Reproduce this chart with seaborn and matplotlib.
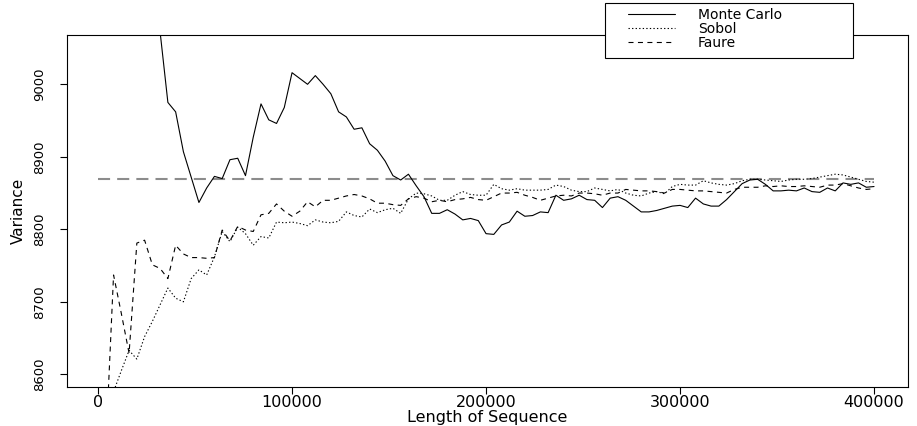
import matplotlib
matplotlib.use("Agg")
import matplotlib.pyplot as plt
import matplotlib.patches as mpatches
import seaborn as sns
import pandas as pd

# ---------------- data ----------------
seq_length = list(range(4000, 400001, 4000))

monte_carlo = [9420, 9350, 9290, 9230, 9180, 9130, 9100, 9072, 8975, 8962,
               8907, 8872, 8837, 8857, 8873, 8870, 8896, 8898, 8874, 8927,
               8973, 8951, 8946, 8968, 9016, 9008, 9000, 9012, 9000, 8987,
               8962, 8955, 8938, 8940, 8918, 8909, 8894, 8874, 8868, 8876,
               8860, 8845, 8822, 8822, 8827, 8821, 8813, 8815, 8812, 8794,
               8793, 8806, 8810, 8825, 8818, 8819, 8824, 8823, 8847, 8840,
               8842, 8847, 8841, 8840, 8830, 8843, 8845, 8840, 8832, 8824,
               8824, 8826, 8829, 8832, 8833, 8830, 8843, 8835, 8832, 8832,
               8841, 8852, 8863, 8868, 8869, 8862, 8853, 8853, 8854, 8853,
               8857, 8852, 8851, 8857, 8853, 8864, 8862, 8864, 8858, 8859]

sobol = [8540, 8576, 8605, 8633, 8621, 8652, 8673, 8696, 8719, 8705,
         8700, 8732, 8744, 8737, 8762, 8797, 8783, 8803, 8794, 8778,
         8790, 8788, 8810, 8809, 8810, 8808, 8805, 8813, 8810, 8809,
         8811, 8824, 8819, 8817, 8828, 8823, 8827, 8829, 8822, 8842,
         8850, 8849, 8846, 8840, 8840, 8847, 8852, 8848, 8847, 8847,
         8862, 8856, 8854, 8856, 8854, 8854, 8854, 8855, 8861, 8859,
         8854, 8852, 8852, 8857, 8855, 8853, 8855, 8850, 8847, 8846,
         8850, 8852, 8849, 8859, 8862, 8861, 8861, 8867, 8864, 8862,
         8861, 8863, 8867, 8869, 8869, 8868, 8867, 8866, 8868, 8869,
         8869, 8870, 8872, 8874, 8876, 8875, 8872, 8869, 8866, 8865]

faure = [8500, 8737, 8684, 8629, 8781, 8785, 8751, 8746, 8732, 8778,
         8766, 8761, 8761, 8760, 8761, 8799, 8784, 8804, 8799, 8797,
         8820, 8822, 8835, 8825, 8818, 8825, 8838, 8831, 8840, 8840,
         8843, 8846, 8848, 8846, 8842, 8836, 8836, 8834, 8833, 8842,
         8845, 8843, 8838, 8840, 8838, 8841, 8842, 8844, 8841, 8840,
         8845, 8850, 8850, 8851, 8847, 8844, 8840, 8843, 8846, 8847,
         8846, 8850, 8850, 8849, 8847, 8850, 8850, 8855, 8854, 8853,
         8853, 8852, 8850, 8855, 8855, 8854, 8853, 8853, 8852, 8851,
         8850, 8855, 8858, 8858, 8858, 8860, 8859, 8860, 8859, 8859,
         8860, 8859, 8858, 8861, 8861, 8863, 8860, 8857, 8855, 8856]

reference_x = [0, 400000]
reference_variance = [8869, 8869]

x_ticks = [0, 100000, 200000, 300000, 400000]
y_ticks = [8600, 8700, 8800, 8900, 9000]

df = pd.DataFrame({"Length of Sequence": seq_length,
                   "Monte Carlo": monte_carlo,
                   "Sobol": sobol,
                   "Faure": faure})
ref_df = pd.DataFrame({"x": reference_x, "v": reference_variance})

# ---------------- style ----------------
sns.set_theme(style="ticks")
plt.rcParams["font.family"] = ["DejaVu Sans"]
plt.rcParams["axes.linewidth"] = 0.8
plt.rcParams["axes.edgecolor"] = "black"
plt.rcParams["text.color"] = "black"
plt.rcParams["axes.labelcolor"] = "black"
plt.rcParams["xtick.color"] = "black"
plt.rcParams["ytick.color"] = "black"

fig = plt.figure(figsize=(9.17, 4.26), dpi=100)
W, H = 917, 426
ax = fig.add_axes([67 / W, 1 - 387 / H, (908 - 67) / W, (387 - 35) / H])

sns.lineplot(data=ref_df, x="x", y="v", ax=ax, color="#8c8c8c", lw=1.5,
             linestyle=(0, (5.8, 3.4)))
sns.lineplot(data=df, x="Length of Sequence", y="Monte Carlo", ax=ax,
             color="black", lw=0.8, label="Monte Carlo")
sns.lineplot(data=df, x="Length of Sequence", y="Sobol", ax=ax,
             color="black", lw=0.8, linestyle=(0, (1.2, 2.0)), label="Sobol")
sns.lineplot(data=df, x="Length of Sequence", y="Faure", ax=ax,
             color="black", lw=0.8, linestyle=(0, (4.5, 4.0)), label="Faure")

ax.set_xlim(-16000, 417500)
ax.set_ylim(8582.5, 9068)
ax.set_xticks(x_ticks)
ax.set_xticklabels([str(t) for t in x_ticks])
ax.set_yticks(y_ticks)
ax.set_yticklabels([str(t) for t in y_ticks])

for s in ax.spines.values():
    s.set_visible(True)
    s.set_color("black")
    s.set_linewidth(0.8)

ax.tick_params(axis="both", direction="out", length=5, width=0.8, color="black")
ax.tick_params(axis="x", labelsize=11.5, pad=0.5, labelcolor="black")
ax.tick_params(axis="y", labelsize=9.5, pad=10, labelrotation=90, labelcolor="black")
for lab in ax.get_yticklabels():
    lab.set_family(["Liberation Sans Narrow", "DejaVu Sans"])
    lab.set_va("center")

ax.set_xlabel("Length of Sequence", fontsize=11.5, labelpad=0, color="black")
ax.set_ylabel("Variance", fontsize=11, labelpad=5, color="black",
              family=["Liberation Sans Narrow", "DejaVu Sans"])

# legend box (drawn over the top spine)
box = mpatches.Rectangle((605 / W, 1 - 58 / H), 248 / W, 55 / H,
                         transform=fig.transFigure, facecolor="white",
                         edgecolor="black", lw=0.8, zorder=4, clip_on=False)
ax.add_artist(box)

fs = 10
px = fs * 100 / 72
leg = ax.legend(loc="upper left", bbox_to_anchor=(628 / W, 1 - 8 / H),
                bbox_transform=fig.transFigure, frameon=False, fontsize=fs,
                borderpad=0, borderaxespad=0, handlelength=47 / px,
                handletextpad=23 / px, labelspacing=0.0)
for t in leg.get_texts():
    t.set_color("black")
leg.set_zorder(5)

fig.savefig("out.png", dpi=100, facecolor="white")
